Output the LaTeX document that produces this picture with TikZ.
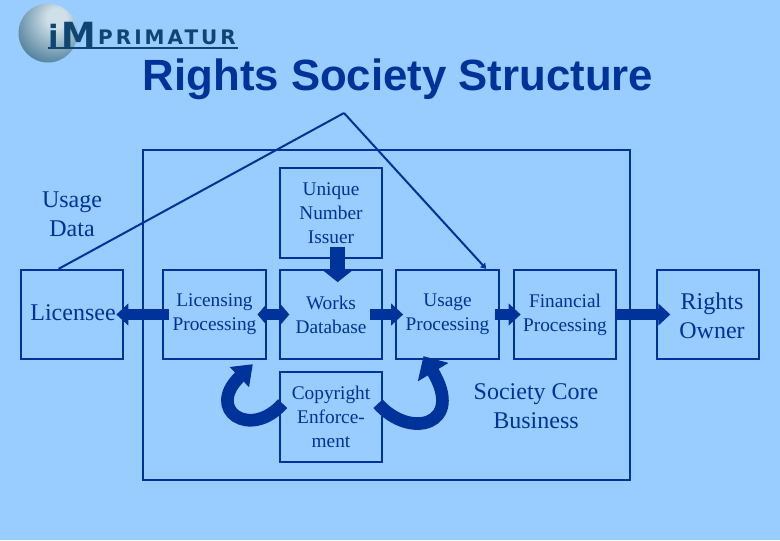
\documentclass[tikz,border=0pt]{standalone}
\usepackage{fontspec}
\setmainfont{Liberation Serif}
\setsansfont{Liberation Sans}
\newfontfamily\logofont{DejaVu Sans}
\usepackage{tikz}
\usetikzlibrary{arrows.meta}
\definecolor{slidebg}{HTML}{99CCFF}
\definecolor{slideblue}{HTML}{003399}
\definecolor{logoblue}{HTML}{0F4570}
\definecolor{ballhigh}{HTML}{D0E0E9}
\definecolor{ballshade}{HTML}{3F7390}
\pgfdeclareradialshading{logoball}{\pgfpoint{8bp}{14bp}}{color(0bp)=(ballhigh); color(8bp)=(ballhigh); color(40bp)=(ballshade); color(100bp)=(ballshade)}
\tikzset{
	stagebox/.style={draw=slideblue, line width=1.5pt, minimum width=77pt, minimum height=67pt, inner sep=0pt, align=center, text=slideblue, font=\fontsize{14.5}{18}\selectfont},
	sidelabel/.style={align=center, text=slideblue, font=\fontsize{18}{21.75}\selectfont},
	blockarrow/.style={draw=slideblue, line width=8pt, -{Triangle[length=9pt, width=16pt]}},
	bothblockarrow/.style={draw=slideblue, line width=8pt, {Triangle[length=7pt, width=16pt]}-{Triangle[length=7pt, width=16pt]}},
	loopbackarrow/.style={draw=slideblue, line width=9.5pt},
	feedline/.style={draw=slideblue, line width=1.5pt},
}
\begin{document}
\begin{tikzpicture}[x=0.75pt, y=-0.75pt]
	\useasboundingbox (0,0) rectangle (780,540);
	\fill[slidebg] (0,0) rectangle (780,540);

	% draw logo
	\shade[shading=logoball] (48,33) circle (29.5);
	\node[text=logoblue, font=\logofont\fontsize{23}{23}\selectfont\bfseries] (logoi) at (54,36) {i};
	\node[text=logoblue, font=\logofont\fontsize{26}{26}\selectfont\bfseries] (logom) at (79,35) {M};
	\node[text=logoblue, font=\logofont\fontsize{15}{15}\selectfont\bfseries\addfontfeature{LetterSpace=15}] (logotext) at (167,37) {PRIMATUR};
	\draw[logoblue, line width=2.2pt] (48,48) -- (238,48);

	% draw title
	\node[text=slideblue, font=\sffamily\bfseries\fontsize{32.8}{36}\selectfont] (title) at (398,79) {Rights Society Structure};

	% draw outer box
	\node[draw=slideblue, line width=1.5pt, minimum width=365pt, minimum height=247pt] (core) at (386.5,315) {};

	% draw boxes
	\node[stagebox] (issuer) at (331,213) {Unique\\Number\\Issuer};
	\node[stagebox] (licensee) at (72,314.5) {};
	\node[stagebox] (licensing) at (214.5,314.5) {Licensing\\Processing};
	\node[stagebox] (works) at (331,314.5) {Works\\Database};
	\node[stagebox] (usage) at (447.5,314.5) {Usage\\Processing};
	\node[stagebox] (financial) at (565,314.5) {Financial\\Processing};
	\node[stagebox] (owner) at (708,314.5) {};
	\node[stagebox] (copyright) at (331,417) {Copyright\\Enforce-\\ment};

	% draw labels
	\node[sidelabel] (licenseetext) at (73,313) {Licensee};
	\node[sidelabel] (ownertext) at (712,316) {Rights\\Owner};
	\node[sidelabel] (usagedata) at (72,214) {Usage\\Data};
	\node[sidelabel] (corebusiness) at (536,406) {Society Core\\Business};

	% draw usage line
	\coordinate (apex) at (344,113);
	\draw[feedline] ([xshift=-10pt]licensee.north) -- (apex);
	\draw[feedline, -{Triangle[length=4pt, width=5pt]}] (apex) -- ([xshift=29pt]usage.north);

	% draw block arrows
	\draw[blockarrow, line width=11pt, -{Triangle[length=9pt, width=22pt]}] ([xshift=5pt, yshift=9pt]issuer.south) -- ([xshift=5pt, yshift=-10pt]works.north);
	\draw[blockarrow] ([xshift=5pt]licensing.west) -- ([xshift=-6pt]licensee.east);
	\draw[bothblockarrow] ([xshift=-7pt]licensing.east) -- ([xshift=8pt]works.west);
	\draw[blockarrow] ([xshift=-10pt]works.east) -- ([xshift=6pt]usage.west);
	\draw[blockarrow] ([xshift=-4pt]usage.east) -- ([xshift=6pt]financial.west);
	\draw[blockarrow] (financial.east) -- ([xshift=11pt]owner.west);

	% draw loop arrows
	\draw[loopbackarrow, -{Triangle[length=14pt, width=20pt]}] ([xshift=3pt, yshift=10pt]copyright.west) .. controls (250,440) and (205,410) .. ([xshift=-10.5pt, yshift=-3pt]licensing.south east);
	\draw[loopbackarrow, -{Triangle[length=14pt, width=26pt]}] ([xshift=-4pt, yshift=10pt]copyright.east) .. controls (410,440) and (465,425) .. ([xshift=-18pt, yshift=3pt]usage.south);
\end{tikzpicture}
\end{document}
